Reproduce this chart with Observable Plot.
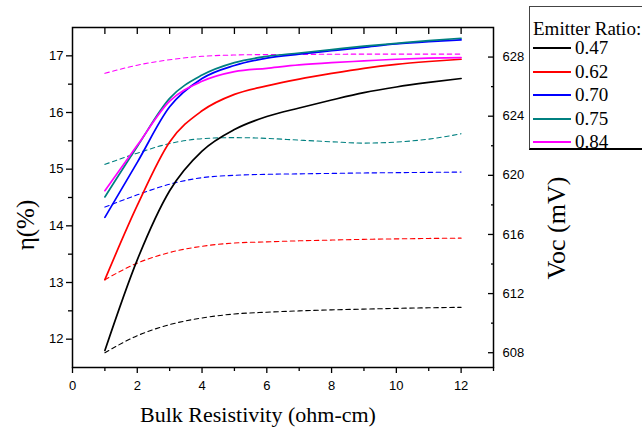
<!DOCTYPE html>
<html><head><meta charset="utf-8">
<script src="https://cdn.jsdelivr.net/npm/d3@7"></script>
<script src="https://cdn.jsdelivr.net/npm/@observablehq/plot@0.6"></script>
<style>
body{margin:0;background:#fff;}
#wrap{position:relative;width:642px;height:429px;overflow:hidden;background:#fff;}
.t{position:absolute;font-family:"Liberation Serif","Times New Roman","DejaVu Serif",serif;color:#000;white-space:nowrap;line-height:1;}
#legend{position:absolute;left:529px;top:6px;width:125px;height:144px;border:1px solid #444;border-bottom:2px solid #000;background:#fff;box-sizing:border-box;}
.row{position:absolute;left:3px;height:20px;}
.sw{position:absolute;left:0;top:9px;width:38px;height:2px;}
.lb{position:absolute;left:42px;top:0;font-family:"Liberation Serif","Times New Roman","DejaVu Serif",serif;font-size:19px;line-height:20px;white-space:nowrap;}
</style></head><body><div id="wrap"></div>
<script>
// ---- data ----
const resistivity = [1, 2, 3, 4, 5, 6, 7, 8, 9, 10, 11, 12];
const ratios = ["0.47", "0.62", "0.70", "0.75", "0.84"];
const colors = ["#000000", "#ff0000", "#0000ff", "#008080", "#ff00ff"];

const eta047 = [11.80, 13.40, 14.62, 15.32, 15.70, 15.93, 16.08, 16.22, 16.35, 16.45, 16.53, 16.60];
const eta062 = [13.05, 14.36, 15.48, 16.03, 16.32, 16.47, 16.59, 16.69, 16.78, 16.85, 16.90, 16.94];
const eta070 = [14.15, 15.12, 16.10, 16.60, 16.83, 16.96, 17.03, 17.09, 17.15, 17.21, 17.25, 17.28];
const eta075 = [14.51, 15.40, 16.25, 16.66, 16.88, 16.99, 17.05, 17.11, 17.17, 17.22, 17.27, 17.31];
const eta084 = [14.62, 15.42, 16.20, 16.55, 16.72, 16.78, 16.84, 16.88, 16.91, 16.94, 16.96, 16.97];

const voc047 = [608.00, 609.15, 609.90, 610.35, 610.62, 610.74, 610.83, 610.90, 610.95, 611.00, 611.04, 611.07];
const voc062 = [612.94, 614.06, 614.78, 615.20, 615.42, 615.50, 615.57, 615.62, 615.67, 615.70, 615.73, 615.75];
const voc070 = [617.85, 618.68, 619.40, 619.84, 620.00, 620.07, 620.10, 620.13, 620.16, 620.18, 620.20, 620.22];
const voc075 = [620.74, 621.50, 622.15, 622.48, 622.55, 622.50, 622.38, 622.27, 622.18, 622.25, 622.45, 622.81];
const voc084 = [626.90, 627.45, 627.82, 628.05, 628.14, 628.17, 628.18, 628.19, 628.20, 628.20, 628.20, 628.20];

const etaSeries = [eta047, eta062, eta070, eta075, eta084];
const vocSeries = [voc047, voc062, voc070, voc075, voc084];

const xTicks = [0, 2, 4, 6, 8, 10, 12];
const xMinorTicks = [1, 3, 5, 7, 9, 11, 13];
const xTopTicks = [1, 2, 3, 4, 5, 6, 7, 8, 9, 10, 11, 12];
const etaTicks = [12, 13, 14, 15, 16, 17];
const etaMinorTicks = [12.5, 13.5, 14.5, 15.5, 16.5];
const vocTicks = [608, 612, 616, 620, 624, 628];
const vocMinorTicks = [610, 614, 618, 622, 626];

const xDomain = [0, 13];
const etaDomain = [11.5, 17.5];
const vocDomain = [607, 630];

const xTitle = "Bulk Resistivity (ohm-cm)";
const etaTitle = "η(%)";
const vocTitle = "Voc (mV)";
const legendTitle = "Emitter Ratio:";

// ---- map Voc onto the eta scale (second y axis) ----
const k = (etaDomain[1] - etaDomain[0]) / (vocDomain[1] - vocDomain[0]);
const toEta = v => etaDomain[0] + (v - vocDomain[0]) * k;
const toVoc = e => vocDomain[0] + (e - etaDomain[0]) / k;

const rows = [];
ratios.forEach((r, i) => {
  resistivity.forEach((x, j) => {
    rows.push({ratio: r, x, eta: etaSeries[i][j], vocE: toEta(vocSeries[i][j])});
  });
});

const sans = "'Liberation Sans', Arial, sans-serif";
const chart = Plot.plot({
  width: 642,
  height: 429,
  marginLeft: 72,
  marginRight: 149,
  marginTop: 27,
  marginBottom: 62,
  style: {fontFamily: sans, fontSize: "13px", color: "#000", background: "#fff"},
  x: {domain: xDomain},
  y: {domain: etaDomain},
  color: {domain: ratios, range: colors},
  marks: [
    Plot.line(rows, {x: "x", y: "vocE", z: "ratio", stroke: "ratio", strokeWidth: 1.1, strokeDasharray: "4.5,3.5", curve: "monotone-x"}),
    Plot.line(rows, {x: "x", y: "eta", z: "ratio", stroke: "ratio", strokeWidth: 1.7, curve: "monotone-x"}),
    Plot.frame({stroke: "#000", strokeWidth: 1.5}),
    // bottom axis
    Plot.axisX(xTicks, {anchor: "bottom", tickSize: 6, tickPadding: 7, strokeWidth: 1.3, tickFormat: d => String(d), label: null}),
    Plot.axisX(xMinorTicks, {anchor: "bottom", tickSize: 4, tickFormat: () => "", strokeWidth: 1.3, label: null}),
    // top inward ticks
    Plot.axisX(xTopTicks, {anchor: "top", tickSize: -6, tickFormat: () => "", strokeWidth: 1.3, label: null}),
    // left axis
    Plot.axisY(etaTicks, {anchor: "left", tickSize: 6, tickPadding: 3, strokeWidth: 1.3, tickFormat: d => String(d), label: null}),
    Plot.axisY(etaMinorTicks, {anchor: "left", tickSize: 4, tickFormat: () => "", strokeWidth: 1.3, label: null}),
    // right axis (Voc), inward ticks
    Plot.axisY(vocTicks.map(toEta), {anchor: "right", tickSize: -6, tickFormat: () => "", strokeWidth: 1.3, label: null}),
    Plot.axisY(vocMinorTicks.map(toEta), {anchor: "right", tickSize: -3, tickFormat: () => "", strokeWidth: 1.3, label: null}),
    Plot.axisY(vocTicks.map(toEta), {anchor: "right", tickSize: 0, tickPadding: 9, tickFormat: d => String(Math.round(toVoc(d))), label: null})
  ]
});

const wrap = document.getElementById("wrap");
wrap.appendChild(chart);

function addText(txt, cx, cy, size, rotate) {
  const d = document.createElement("div");
  d.className = "t";
  d.textContent = txt;
  d.style.fontSize = size + "px";
  d.style.left = cx + "px";
  d.style.top = cy + "px";
  d.style.transform = "translate(-50%,-50%)" + (rotate ? " rotate(-90deg)" : "");
  wrap.appendChild(d);
}
addText(xTitle, 258, 415, 22, false);
addText(etaTitle, 25, 225, 25, true);
addText(vocTitle, 557, 228, 26, true);

// legend
const lg = document.createElement("div");
lg.id = "legend";
const tt = document.createElement("div");
tt.className = "lb";
tt.style.left = "3px";
tt.style.top = "12px";
tt.textContent = legendTitle;
lg.appendChild(tt);
ratios.forEach((r, i) => {
  const row = document.createElement("div");
  row.className = "row";
  row.style.top = (31 + i * 23.5) + "px";
  const sw = document.createElement("div");
  sw.className = "sw";
  sw.style.background = colors[i];
  const lb = document.createElement("div");
  lb.className = "lb";
  lb.textContent = r;
  row.appendChild(sw);
  row.appendChild(lb);
  lg.appendChild(row);
});
wrap.appendChild(lg);
</script>
</body></html>
